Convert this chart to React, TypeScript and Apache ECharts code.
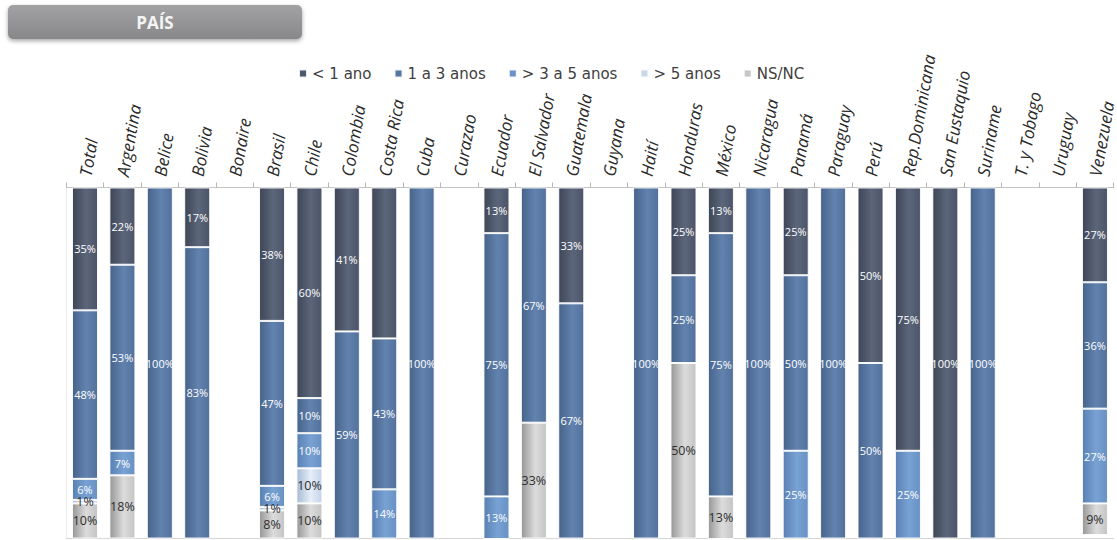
import React, { useEffect, useRef } from "react";
import * as echarts from "echarts";

// Countries along the top axis
const countries = [
  "Total", "Argentina", "Belice", "Bolivia", "Bonaire", "Brasil", "Chile",
  "Colombia", "Costa Rica", "Cuba", "Curazao", "Ecuador", "El Salvador",
  "Guatemala", "Guyana", "Haití", "Honduras", "México", "Nicaragua", "Panamá",
  "Paraguay", "Perú", "Rep.Dominicana", "San Eustaquio", "Suriname",
  "T. y Tobago", "Uruguay", "Venezuela",
];

const seriesNames = ["< 1 ano", "1 a 3 anos", "> 3 a 5 anos", "> 5 anos", "NS/NC"];

// Percentage shares per country (null = no answers in that band)
const lessThan1 = [35, 22, null, 17, null, 38, 60, 41, 43, null, null, 13, null, 33, null, null, 25, 13, null, 25, null, 50, 75, 100, null, null, null, 27];
const from1to3 = [48, 53, 100, 83, null, 47, 10, 59, 43, 100, null, 75, 67, 67, null, 100, 25, 75, 100, 50, 100, 50, null, null, 100, null, null, 36];
const from3to5 = [6, 7, null, null, null, 6, 10, null, 14, null, null, 13, null, null, null, null, null, null, null, 25, null, null, 25, null, null, null, null, 27];
const moreThan5 = [1, null, null, null, null, 1, 10, null, null, null, null, null, null, null, null, null, null, null, null, null, null, null, null, null, null, null, null, null];
const nsnc = [10, 18, null, null, null, 8, 10, null, null, null, null, null, 33, null, null, null, 50, 13, null, null, null, null, null, null, null, null, null, 9];

// Segments whose value is not printed
const unlabeled: Record<string, string[]> = { "< 1 ano": ["Costa Rica"] };

const solidColors = ["#4e586b", "#56759f", "#6b93c8", "#c9d7ea", "#c6c6c6"];
const gradientStops = [
  ["#3e4656", "#5c667b", "#4b5467"],
  ["#47638a", "#6283af", "#52709b"],
  ["#5a80b2", "#79a2d4", "#6790c3"],
  ["#a8bbd6", "#e6eef8", "#c3d3e9"],
  ["#979797", "#dcdcdc", "#c4c4c4"],
];

const values = [lessThan1, from1to3, from3to5, moreThan5, nsnc];

export default function App() {
  const ref = useRef<HTMLDivElement>(null);

  useEffect(() => {
    if (!ref.current) return;
    const chart = echarts.init(ref.current, null, { renderer: "svg" });

    const series = seriesNames.map((name, si) => {
      const hidden = unlabeled[name] || [];
      const light = si >= 3;
      return {
        name,
        type: "bar",
        stack: "share",
        barWidth: 26,
        itemStyle: {
          color: new echarts.graphic.LinearGradient(0, 0, 1, 0, [
            { offset: 0, color: gradientStops[si][0] },
            { offset: 0.55, color: gradientStops[si][1] },
            { offset: 1, color: gradientStops[si][2] },
          ]),
          borderColor: "rgba(255,255,255,0.9)",
          borderWidth: 1,
        },
        label: {
          show: true,
          position: "inside",
          formatter: (p: any) => (p.value == null ? "" : `${p.value}%`),
          color: light ? "#2e2e2e" : "#ffffff",
          fontFamily: "Open Sans",
          fontSize: light ? 12.5 : 11,
        },
        data: values[si].map((v, i) =>
          hidden.includes(countries[i]) ? { value: v, label: { show: false } } : v
        ),
      };
    });

    chart.setOption({
      animation: false,
      legend: {
        left: 293,
        top: 61,
        itemWidth: 8,
        itemHeight: 8,
        itemGap: 22,
        icon: "rect",
        textStyle: { fontFamily: "DejaVu Sans", fontSize: 15, color: "#404040" },
        data: seriesNames.map((name, i) => ({ name, itemStyle: { color: solidColors[i] } })),
      },
      grid: { left: 66.3, right: 2.7, top: 187.5, bottom: 1.5 },
      xAxis: [
        {
          type: "category",
          position: "top",
          offset: 3.5,
          data: countries,
          axisLine: { lineStyle: { color: "#c4c4c4", width: 1 } },
          axisTick: { show: true, length: 5, lineStyle: { color: "#b8b8b8" } },
          axisLabel: {
            interval: 0,
            rotate: 80,
            margin: 8,
            fontFamily: "Open Sans",
            fontStyle: "italic",
            fontSize: 17,
            color: "#2a2a2a",
          },
        },
        {
          type: "category",
          position: "bottom",
          data: countries,
          axisLine: { lineStyle: { color: "#d6d6d6" } },
          axisTick: { show: false },
          axisLabel: { show: false },
        },
      ],
      yAxis: {
        type: "value",
        inverse: true,
        min: 0,
        max: 100,
        axisLabel: { show: false },
        axisTick: { show: false },
        splitLine: { show: false },
        axisLine: { show: true, lineStyle: { color: "#ececec" } },
      },
      graphic: [
        {
          type: "rect",
          shape: { x: 8, y: 5, width: 294, height: 34, r: 5 },
          style: {
            fill: new echarts.graphic.LinearGradient(0, 0, 0, 1, [
              { offset: 0, color: "#a2a2a4" },
              { offset: 1, color: "#88888a" },
            ]),
            shadowBlur: 4,
            shadowOffsetY: 2,
            shadowColor: "rgba(0,0,0,0.35)",
          },
        },
        {
          type: "text",
          x: 155,
          y: 22,
          style: {
            text: "PAÍS",
            fill: "#f4f4f4",
            font: "bold 17px 'Open Sans'",
            textAlign: "center",
            textVerticalAlign: "middle",
          },
        },
      ],
      series,
    });

    return () => chart.dispose();
  }, []);

  return (
    <div
      ref={ref}
      style={{ position: "fixed", left: 0, top: 0, width: 1117, height: 540, background: "#fff" }}
    />
  );
}
